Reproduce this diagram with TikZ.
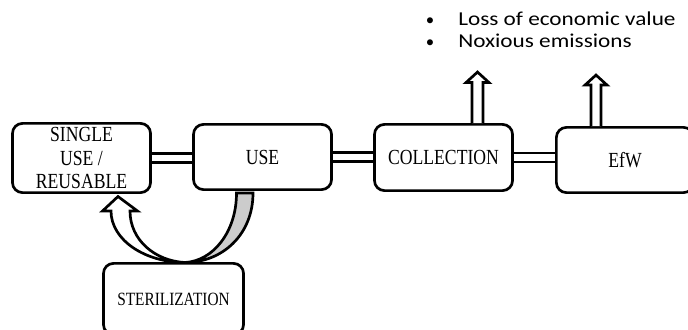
\documentclass[tikz,border=0pt]{standalone}
\usepackage{fontspec}
\setmainfont{Liberation Serif}[FakeStretch=0.82]
\newfontfamily\notefont{Carlito}[FakeStretch=1.18]
\newfontfamily\bulletfont{Carlito}
\usetikzlibrary{calc}

\tikzset{
  stage/.style={draw, line width=1.9pt, rounded corners=0.25cm, fill=white,
    align=center, inner sep=0pt, font=\fontsize{15.3}{16.6}\selectfont},
  link/.style={draw, line width=1.9pt, double=white, double distance=4.7pt},
  hollow/.style={draw, line width=1.9pt, fill=white, line join=miter},
  note/.style={inner sep=0pt, font=\notefont\fontsize{14}{16}\selectfont},
  dot/.style={inner sep=0pt, font=\bulletfont\fontsize{12}{14}\selectfont}
}

\begin{document}
\begin{tikzpicture}[x=0.025cm, y=-0.025cm]
\useasboundingbox (0,0) rectangle (688,329);
\clip (0,0) rectangle (688,329);

% --- stages ---
\node[stage, minimum width=3.45cm, minimum height=1.73cm] (single) at (81.5,158) {\raisebox{-3pt}{\parbox{3cm}{\centering SINGLE\\USE /\\REUSABLE}}};
\node[stage, minimum width=3.45cm, minimum height=1.63cm] (use) at (262.5,157) {USE};
\node[stage, minimum width=3.45cm, minimum height=1.655cm] (collect) at (443.5,157.5) {COLLECTION};
\node[stage, minimum width=3.43cm, minimum height=1.63cm] (efw) at (625,160) {EfW};
\node[stage, minimum width=3.5cm, minimum height=1.78cm, font=\fontsize{13.3}{15}\selectfont] (steril) at (173.5,299) {STERILIZATION};

% --- links ---
\draw[link] (single.east) -- (single.east -| use.west);
\draw[link] (use.east) -- (use.east -| collect.west);
\draw[link] (collect.east) -- (collect.east -| efw.west);

% --- outputs ---
\draw[hollow] ($(collect.north)+(28.5,0)$) -- ++(0,-40.5) -- ++(-6,0) -- ++(11.5,-10.5)
  -- ++(11.5,10.5) -- ++(-6,0) -- ++(0,40.5);
\draw[hollow] ($(efw.north)+(-34,0)$) -- ++(0,-41) -- ++(-6,0) -- ++(11,-10)
  -- ++(11,10) -- ++(-6,0) -- ++(0,41);

% --- sterilization loop ---
\draw[hollow, fill=gray!40] (253,193) .. controls (253,235) and (222,262.5) .. (185,262.5)
  .. controls (213,261) and (236.5,232) .. (236.5,193) -- cycle;
\draw[hollow] (185,262.5) .. controls (145,262.5) and (111,240) .. (111,211)
  -- (102.5,211) -- (118,196.5) -- (137.5,211) -- (130,211)
  .. controls (130,240) and (155,261) .. (185,262.5) -- cycle;

% --- notes ---
\node[dot, anchor=base] (bulLoss) at (430,25.7) {•};
\node[note, anchor=base west] (loss) at (458,25.7) {Loss of economic value};
\node[dot, anchor=base] (bulNox) at (430,47.3) {•};
\node[note, anchor=base west] (noxious) at (458,47.3) {Noxious emissions};

\end{tikzpicture}
\end{document}
